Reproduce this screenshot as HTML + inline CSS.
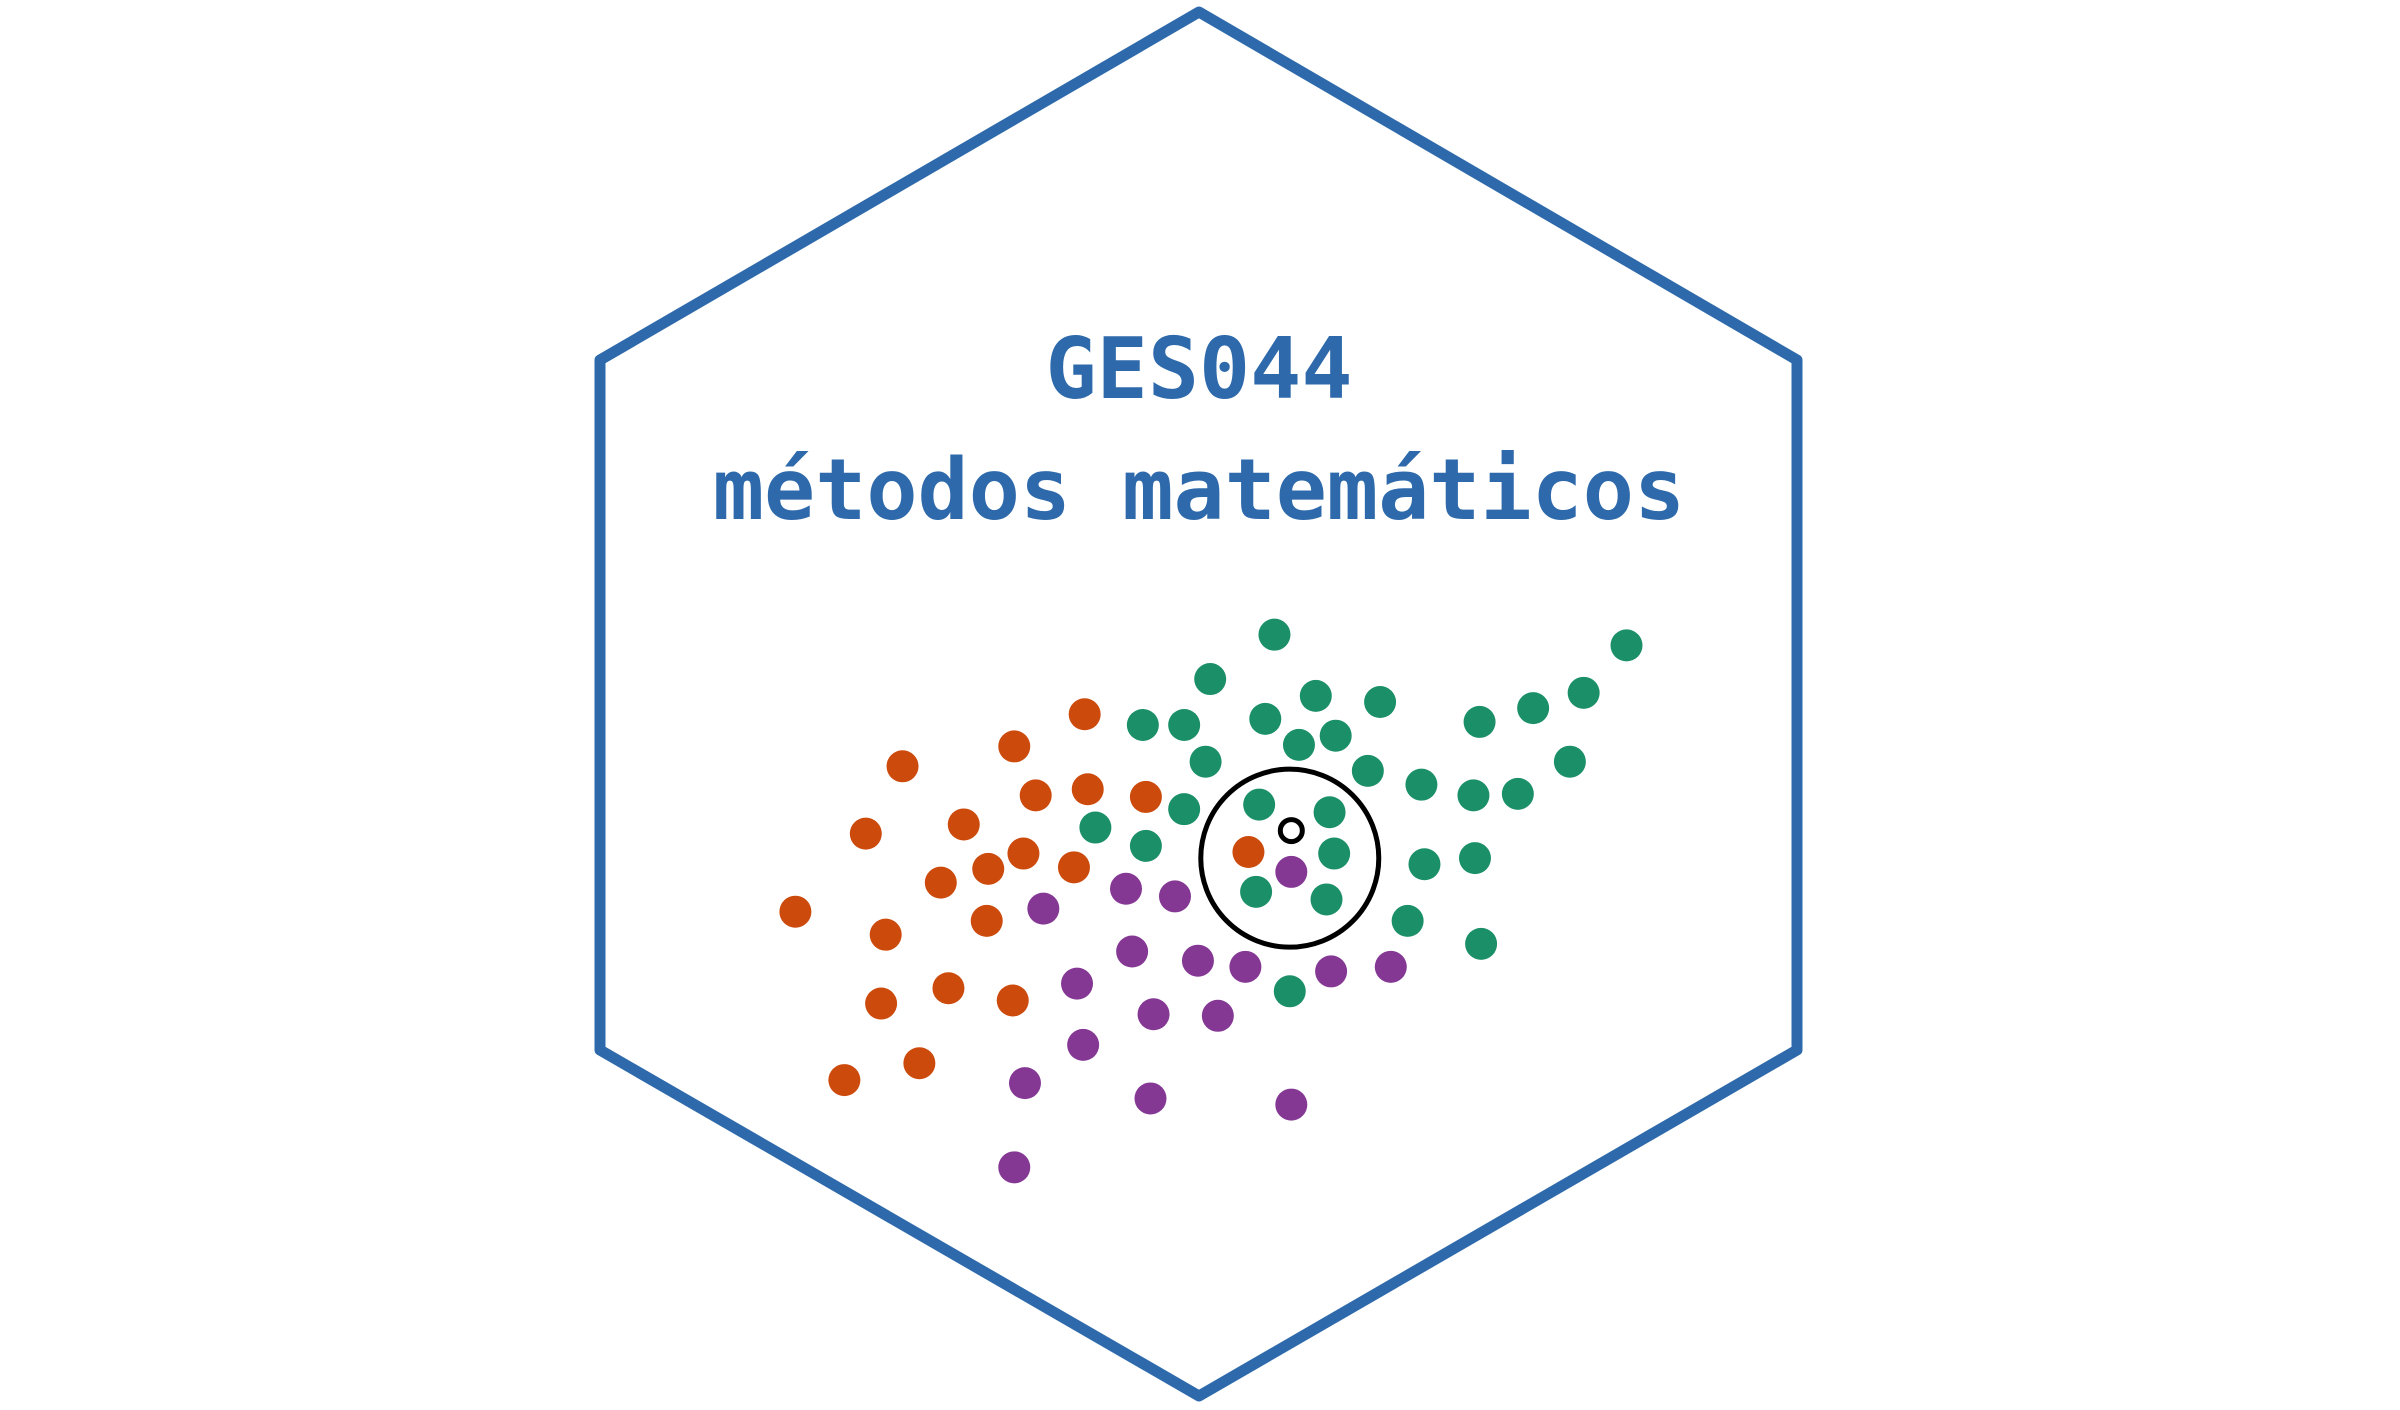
<!DOCTYPE html>
<html><head><meta charset="utf-8"><style>
html,body{margin:0;padding:0;background:#fff;}
svg{display:block;}
</style></head><body>
<svg id="logo" width="2400" height="1410" viewBox="0 0 2400 1410" xmlns="http://www.w3.org/2000/svg">
<rect width="2400" height="1410" fill="#fff"/>
<polygon points="1199,12 1797,360 1797,1050 1199,1396 600,1050 600,360" fill="none" stroke="#2e6aab" stroke-width="11" stroke-linejoin="round"/>
<text x="1199" y="398" text-anchor="middle" font-family="DejaVu Sans Mono, monospace" font-weight="bold" font-size="85" fill="#2e6aab">GES044</text>
<text x="1199" y="519" text-anchor="middle" font-family="DejaVu Sans Mono, monospace" font-weight="bold" font-size="85" fill="#2e6aab">métodos matemáticos</text>
<g id="pts"></g>
</svg>
<script>
const greenX=[832,1062,790,859,901,1034,746,773,826,872,848,966,1001,787,893,1025,928,962,991,773,822,868,715,748,871,930,963,820,866,919,967,842];
const greenY=[414,421,443,454,458,452,473,473,469,480,486,471,462,497,503,497,512,519,518,528,525,530,540,552,557,564,560,582,587,601,616,647];
const orangeX=[708,589,662,676,710,748,565,629,668,645,701,614,815,519,644,578,619,575,661,551,600];
const orangeY=[466,500,487,519,515,520,544,538,557,567,566,576,556,595,601,610,645,655,653,705,694];
const purpleX=[843,735,767,681,739,782,813,869,908,703,753,795,707,669,751,843,662];
const purpleY=[569,580,585,593,621,627,631,634,631,642,662,663,682,707,717,721,762];
const S=2400/1568;
const sx=v=>v*S+1, sy=v=>v*S+1;
const NS='http://www.w3.org/2000/svg';
const g=document.getElementById('pts');
function draw(xs,ys,color,name){
  for(let i=0;i<xs.length;i++){
    const c=document.createElementNS(NS,'circle');
    c.setAttribute('cx',sx(xs[i]));c.setAttribute('cy',sy(ys[i]));
    c.setAttribute('r',16);c.setAttribute('fill',color);
    
    
    g.appendChild(c);
  }
}
draw(greenX,greenY,'#1b9068','green-point');
draw(orangeX,orangeY,'#cc4a0c','orange-point');
draw(purpleX,purpleY,'#843894','purple-point');
const big=document.createElementNS(NS,'circle');
big.setAttribute('cx',sx(842));big.setAttribute('cy',sy(560));big.setAttribute('r',89);
big.setAttribute('fill','none');big.setAttribute('stroke','#000');big.setAttribute('stroke-width',5);


g.appendChild(big);
const sm=document.createElementNS(NS,'circle');
sm.setAttribute('cx',sx(843));sm.setAttribute('cy',sy(542));sm.setAttribute('r',11);
sm.setAttribute('fill','#fff');sm.setAttribute('stroke','#000');sm.setAttribute('stroke-width',5);


g.appendChild(sm);
</script>
</body></html>
